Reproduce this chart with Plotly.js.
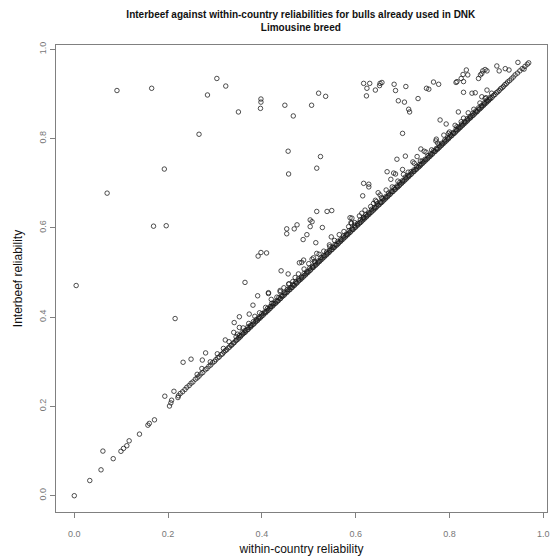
<!DOCTYPE html>
<html><head><meta charset="utf-8">
<script src="https://cdn.plot.ly/plotly-3.0.1.min.js"></script>
<style>html,body{margin:0;padding:0;background:#fff}#plot{width:550px;height:557px}</style>
</head><body><div id="plot"></div>
<script>
// Scattered bulls well above the diagonal
var outX = [0.091,0.165,0.304,0.323,0.284,0.398,0.398,0.397,0.350,0.449,0.467,0.266,0.456,0.457,0.192,0.070,0.169,0.196,0.453,0.453,0.469,0.475,0.392,0.398,0.410,0.441,0.456,0.480,
0.004,0.215,0.364,0.000,0.033,0.057,0.061,0.083,0.0995,0.105,0.112,0.117,0.139,0.157,0.160,0.171,0.193,0.203,0.206,0.2075,0.2125,0.221,0.232,0.249,0.273,0.280,0.272,0.322,0.340,0.341,0.352,0.373,0.381,0.391,0.414,0.439,0.457,0.421,0.352,0.345,
0.617,0.630,0.623,0.624,0.642,0.652,0.656,0.651,0.682,0.685,0.707,0.691,0.704,0.713,0.715,0.733,0.751,0.756,0.766,0.777,0.814,0.825,0.830,0.836,0.839,0.829,0.830,0.848,0.855,0.862,0.866,0.871,0.876,0.880,0.869,0.876,0.880,0.901,0.906,0.919,0.927,0.946,0.959,0.816,0.869,
0.521,0.536,0.506,0.525,0.517,0.700,0.819,0.780,0.793,0.830,0.816,0.798,0.771,0.772,0.739,0.746,0.731,0.722,0.706,0.688,0.700,0.681,0.685,0.667,0.675,0.617,0.628,0.628,0.615,0.648,0.652,0.517,0.539,0.549,0.503,0.507,0.503,0.529,0.496,0.488,0.515,0.548,0.544,0.592,0.590,0.613,0.617,0.638,0.644,0.489,0.510,0.517,0.507,0.485,0.471,0.414,0.439,0.588,0.591];
var outY = [0.908,0.913,0.935,0.918,0.898,0.889,0.882,0.868,0.860,0.875,0.851,0.810,0.772,0.721,0.732,0.678,0.604,0.605,0.598,0.587,0.598,0.607,0.537,0.545,0.544,0.504,0.497,0.522,
0.471,0.397,0.478,0.000,0.034,0.058,0.100,0.083,0.0995,0.106,0.112,0.123,0.138,0.158,0.162,0.170,0.223,0.201,0.208,0.214,0.234,0.220,0.299,0.306,0.304,0.320,0.285,0.349,0.366,0.388,0.401,0.407,0.427,0.448,0.453,0.457,0.474,0.431,0.377,0.356,
0.924,0.924,0.896,0.913,0.909,0.924,0.926,0.919,0.922,0.908,0.917,0.885,0.882,0.866,0.860,0.890,0.913,0.911,0.927,0.922,0.926,0.935,0.928,0.954,0.943,0.944,0.904,0.902,0.903,0.935,0.943,0.952,0.955,0.952,0.894,0.890,0.909,0.963,0.952,0.957,0.954,0.971,0.956,0.928,0.946,
0.902,0.895,0.875,0.760,0.734,0.812,0.860,0.842,0.833,0.846,0.827,0.812,0.795,0.799,0.777,0.772,0.760,0.748,0.761,0.754,0.731,0.723,0.721,0.726,0.709,0.700,0.698,0.692,0.672,0.679,0.674,0.637,0.637,0.639,0.618,0.614,0.603,0.601,0.585,0.574,0.567,0.580,0.562,0.622,0.612,0.633,0.624,0.655,0.659,0.528,0.533,0.543,0.530,0.523,0.489,0.455,0.460,0.623,0.610];

// Bulls slightly above the diagonal
var nearX = [0.262,0.290,0.305,0.318,0.330,0.348,0.360,0.372,0.385,0.395,0.408,0.420,0.432,0.447,0.458,0.466,0.478,0.490,0.500,0.512,0.522,0.532,0.545,0.555,0.565,0.575,0.585,0.598,0.608,0.620,0.632,0.642,0.655,0.665,0.678,0.690,0.702,0.712,0.725,0.738,0.750,0.762,0.775,0.788,0.800,0.812,0.825,0.840,0.852,0.865,0.878,0.890];
var nearY = [0.272,0.300,0.318,0.330,0.345,0.362,0.376,0.386,0.402,0.410,0.422,0.440,0.445,0.466,0.475,0.480,0.497,0.508,0.520,0.525,0.541,0.548,0.558,0.572,0.585,0.592,0.603,0.612,0.627,0.640,0.648,0.662,0.668,0.685,0.692,0.705,0.720,0.725,0.745,0.750,0.770,0.775,0.790,0.808,0.815,0.830,0.838,0.858,0.866,0.880,0.892,0.902];

// Main band along the diagonal
var bandX = [0.222,0.226,0.231,0.236,0.240,0.245,0.249,0.253,0.258,0.262,
0.266,0.270,0.274,0.279,0.283,0.287,0.291,0.295,0.299,0.302,
0.306,0.309,0.313,0.316,0.319,0.322,0.325,0.328,0.331,0.334,
0.336,0.339,0.341,0.344,0.346,0.349,0.351,0.354,0.356,0.359,
0.361,0.364,0.366,0.369,0.371,0.373,0.376,0.378,0.381,0.383,
0.386,0.388,0.391,0.393,0.396,0.398,0.400,0.403,0.405,0.408,
0.410,0.413,0.415,0.418,0.420,0.423,0.425,0.428,0.430,0.433,
0.435,0.438,0.440,0.443,0.445,0.448,0.450,0.453,0.455,0.458,
0.460,0.463,0.465,0.468,0.470,0.473,0.475,0.478,0.480,0.483,
0.485,0.488,0.490,0.493,0.495,0.498,0.500,0.503,0.505,0.508,
0.510,0.513,0.515,0.518,0.520,0.523,0.525,0.528,0.530,0.533,
0.535,0.538,0.540,0.543,0.545,0.548,0.550,0.553,0.555,0.558,
0.560,0.563,0.565,0.568,0.570,0.573,0.575,0.578,0.580,0.583,
0.585,0.588,0.590,0.593,0.595,0.598,0.600,0.603,0.605,0.608,
0.610,0.613,0.615,0.618,0.620,0.623,0.625,0.628,0.630,0.633,
0.635,0.638,0.640,0.643,0.645,0.648,0.650,0.653,0.655,0.658,
0.660,0.663,0.665,0.668,0.670,0.673,0.675,0.678,0.680,0.683,
0.685,0.688,0.690,0.693,0.695,0.698,0.700,0.703,0.705,0.708,
0.710,0.713,0.715,0.718,0.720,0.723,0.725,0.728,0.730,0.733,
0.735,0.738,0.740,0.743,0.745,0.748,0.750,0.753,0.755,0.758,
0.760,0.763,0.765,0.768,0.770,0.773,0.775,0.778,0.780,0.783,
0.785,0.788,0.790,0.793,0.795,0.798,0.800,0.803,0.805,0.808,
0.810,0.813,0.815,0.818,0.820,0.823,0.825,0.828,0.830,0.833,
0.835,0.838,0.840,0.843,0.845,0.848,0.850,0.853,0.855,0.858,
0.860,0.863,0.865,0.868,0.870,0.873,0.875,0.878,0.880,0.883,
0.885,0.888,0.891,0.894,0.897,0.900,0.903,0.906,0.909,0.912,
0.915,0.918,0.921,0.924,0.928,0.932,0.936,0.940,0.945,0.950,
0.955,0.961,0.966,0.969];
var bandY = [0.224,0.229,0.233,0.238,0.243,0.247,0.252,0.255,0.261,0.264,
0.268,0.273,0.276,0.282,0.285,0.290,0.293,0.298,0.301,0.305,
0.309,0.311,0.316,0.318,0.322,0.325,0.327,0.331,0.333,0.337,
0.338,0.342,0.343,0.347,0.349,0.351,0.354,0.356,0.359,0.362,
0.364,0.366,0.369,0.372,0.373,0.377,0.378,0.381,0.384,0.385,
0.389,0.391,0.393,0.397,0.398,0.401,0.403,0.405,0.409,0.410,
0.413,0.415,0.418,0.420,0.424,0.425,0.428,0.431,0.432,0.436,
0.437,0.441,0.442,0.446,0.448,0.450,0.454,0.455,0.458,0.461,
0.462,0.466,0.467,0.471,0.472,0.476,0.477,0.481,0.483,0.485,
0.488,0.490,0.493,0.495,0.498,0.500,0.503,0.505,0.508,0.511,
0.512,0.516,0.517,0.520,0.523,0.525,0.528,0.530,0.533,0.535,
0.538,0.540,0.543,0.545,0.548,0.551,0.552,0.556,0.557,0.561,
0.562,0.565,0.568,0.570,0.573,0.575,0.578,0.580,0.583,0.585,
0.588,0.590,0.593,0.596,0.597,0.601,0.602,0.606,0.607,0.611,
0.612,0.615,0.618,0.620,0.623,0.625,0.628,0.630,0.633,0.635,
0.638,0.640,0.643,0.645,0.648,0.651,0.652,0.656,0.657,0.660,
0.663,0.665,0.668,0.670,0.673,0.675,0.678,0.681,0.682,0.686,
0.687,0.691,0.692,0.695,0.698,0.700,0.703,0.705,0.708,0.710,
0.713,0.715,0.718,0.720,0.723,0.726,0.727,0.731,0.732,0.736,
0.737,0.740,0.743,0.745,0.748,0.750,0.753,0.755,0.758,0.760,
0.763,0.765,0.768,0.771,0.772,0.776,0.777,0.780,0.783,0.785,
0.788,0.790,0.793,0.795,0.798,0.800,0.803,0.806,0.807,0.811,
0.812,0.815,0.818,0.820,0.823,0.825,0.828,0.830,0.833,0.835,
0.838,0.840,0.843,0.846,0.847,0.851,0.852,0.855,0.858,0.860,
0.862,0.866,0.867,0.870,0.873,0.875,0.878,0.880,0.883,0.885,
0.888,0.890,0.893,0.897,0.899,0.903,0.905,0.908,0.912,0.914,
0.917,0.921,0.923,0.927,0.930,0.934,0.938,0.943,0.947,0.952,
0.957,0.962,0.967,0.970];

// Upper edge of the diagonal band
var band2X = [0.352,0.358,0.364,0.370,0.376,0.382,0.388,0.394,0.400,0.406,
0.412,0.418,0.424,0.430,0.436,0.442,0.448,0.454,0.460,0.466,
0.472,0.478,0.484,0.490,0.496,0.502,0.508,0.514,0.520,0.526,
0.532,0.538,0.544,0.550,0.556,0.562,0.568,0.574,0.580,0.586,
0.592,0.598,0.604,0.610,0.616,0.622,0.628,0.634,0.640,0.646,
0.652,0.658,0.664,0.670,0.676,0.682,0.688,0.694,0.700,0.706,
0.712,0.718,0.724,0.730,0.736,0.742,0.748,0.754,0.760,0.766,
0.772,0.778,0.784,0.790,0.796,0.802,0.808,0.814,0.820,0.826,
0.832,0.838,0.844,0.850,0.856,0.862,0.868,0.874,0.880,0.886];
var band2Y = [0.359,0.366,0.370,0.378,0.382,0.390,0.395,0.400,0.408,0.412,
0.420,0.424,0.431,0.436,0.444,0.448,0.455,0.462,0.466,0.473,
0.479,0.486,0.490,0.498,0.502,0.510,0.514,0.522,0.526,0.534,
0.538,0.546,0.550,0.557,0.563,0.570,0.574,0.582,0.586,0.594,
0.598,0.606,0.610,0.618,0.622,0.630,0.634,0.642,0.646,0.654,
0.658,0.666,0.670,0.678,0.682,0.690,0.694,0.702,0.706,0.714,
0.718,0.726,0.730,0.738,0.742,0.750,0.754,0.762,0.766,0.773,
0.778,0.786,0.790,0.797,0.802,0.809,0.814,0.821,0.826,0.833,
0.838,0.845,0.850,0.857,0.862,0.869,0.874,0.880,0.886,0.892];

var tickVals = [0, 0.2, 0.4, 0.6, 0.8, 1.0];
var tickText = ["0.0", "0.2", "0.4", "0.6", "0.8", "1.0"];

var marker = {symbol: 'circle-open', size: 4.5, color: 'rgba(25,25,25,0.85)', line: {width: 0.9, color: 'rgba(25,25,25,0.85)'}};
function tr(x, y) { return {x: x, y: y, type: 'scatter', mode: 'markers', marker: marker, hoverinfo: 'x+y', showlegend: false}; }

var font = "Liberation Sans, Arial, Helvetica, sans-serif";
var axisCommon = {
  tickvals: tickVals, ticktext: tickText, ticks: 'outside', ticklen: 5, tickwidth: 1, tickcolor: '#808080',
  showline: true, mirror: true, linecolor: '#808080', linewidth: 1,
  showgrid: false, zeroline: false, tickfont: {family: font, size: 9, color: '#777'}
};
var layout = {
  width: 550, height: 557,
  margin: {l: 56, r: 3, t: 45, b: 45},
  paper_bgcolor: '#fff', plot_bgcolor: '#fff',
  title: {text: '<b>Interbeef against within-country reliabilities for bulls already used in DNK<br>Limousine breed</b>',
          font: {family: font, size: 10, color: '#111'}, x: 0.547, xanchor: 'center', y: 0.967, yanchor: 'top'},
  xaxis: Object.assign({}, axisCommon, {range: [-0.039, 1.008], ticklabelstandoff: 8,
    title: {text: 'within-country reliability', font: {family: font, size: 12, color: '#111'}, standoff: 6}}),
  yaxis: Object.assign({}, axisCommon, {range: [-0.0365, 1.010], tickangle: -90,
    title: {text: 'Interbeef reliability', font: {family: font, size: 12, color: '#111'}, standoff: 13}})
};
Plotly.newPlot('plot', [tr(bandX, bandY), tr(band2X, band2Y), tr(nearX, nearY), tr(outX, outY)], layout, {displayModeBar: false, staticPlot: true});
</script></body></html>
